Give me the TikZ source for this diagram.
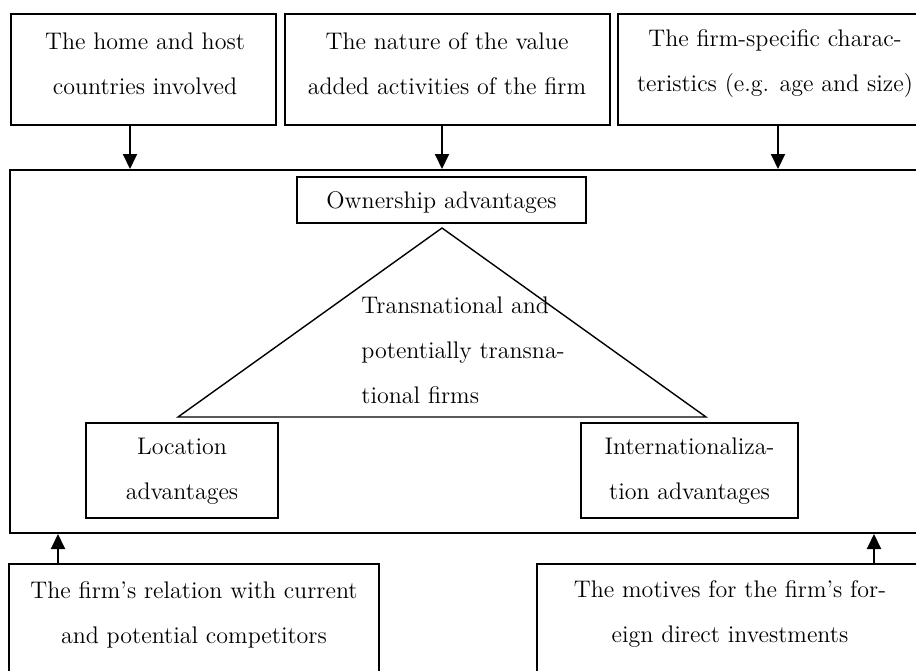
\documentclass[tikz,border=0pt]{standalone}
\usetikzlibrary{arrows.meta}
\begin{document}
\begin{tikzpicture}[x=0.5pt,y=-0.5pt,
  box/.style={draw,line width=1pt,rectangle,inner sep=0pt},
  txt/.style={align=center,inner sep=0pt,font=\fontsize{12}{22.5}\selectfont},
  feed/.style={line width=1pt,-{Triangle[length=7.5pt,width=7pt]}}]
\useasboundingbox (0,0) rectangle (916,670);
\clip (0,0) rectangle (916,670);

% determinant boxes above the framework
\node[box,minimum width=132.5pt,minimum height=55.5pt] (home) at (143.5,69.5) {};
\node[box,minimum width=162.5pt,minimum height=55.5pt] (nature) at (447.5,69.5) {};
\node[box,minimum width=156pt,minimum height=55.5pt] (firm) at (774,69.5) {};
\node[txt] (homet) at (145,63.5) {The home and host\\countries involved};
\node[txt] (naturet) at (447,63.5) {The nature of the value\\added activities of the firm};
\node[txt] (firmt) at (775,63.5) {The firm-specific charac-\\teristics (e.g. age and size)};

% the OLI framework
\node[box,minimum width=460pt,minimum height=181.5pt] (frame) at (470,351.5) {};
\node[box,minimum width=144.5pt,minimum height=23pt] (own) at (441.5,200) {};
\node[txt] (ownt) at (441.5,203) {Ownership advantages};
\node[box,minimum width=96pt,minimum height=47.5pt] (loc) at (182,470.5) {};
\node[txt] (loct) at (182,471.5) {Location\\advantages};
\node[box,minimum width=108.5pt,minimum height=47.5pt] (int) at (689.5,470.5) {};
\node[txt] (intt) at (689.5,471.5) {Internationaliza-\\tion advantages};

% triangle of firms
\coordinate (apex) at (442,228);
\coordinate (bl) at (178,417);
\coordinate (br) at (706,417);
\draw[line width=0.7pt] (apex) -- (bl) -- (br) -- cycle;
\node[txt,align=left,anchor=west] (firms) at (361,350) {Transnational and\\potentially transna-\\tional firms};

% determinant boxes below the framework
\node[box,minimum width=185pt,minimum height=63pt] (comp) at (194,627) {};
\node[box,minimum width=196.5pt,minimum height=63pt] (motive) at (733.5,627) {};
\node[txt] (compt) at (194,614.5) {The firm's relation with current\\and potential competitors};
\node[txt] (motivet) at (730,614.5) {The motives for the firm's for-\\eign direct investments};

% influence arrows
\coordinate (a1) at (130,0);
\coordinate (a2) at (442,0);
\coordinate (a3) at (778,0);
\coordinate (a4) at (58,0);
\coordinate (a5) at (874,0);
\draw[feed] (home.south -| a1) -- (frame.north -| a1);
\draw[feed] (nature.south -| a2) -- (frame.north -| a2);
\draw[feed] (firm.south -| a3) -- (frame.north -| a3);
\draw[feed] (comp.north -| a4) -- (frame.south -| a4);
\draw[feed] (motive.north -| a5) -- (frame.south -| a5);
\end{tikzpicture}
\end{document}
